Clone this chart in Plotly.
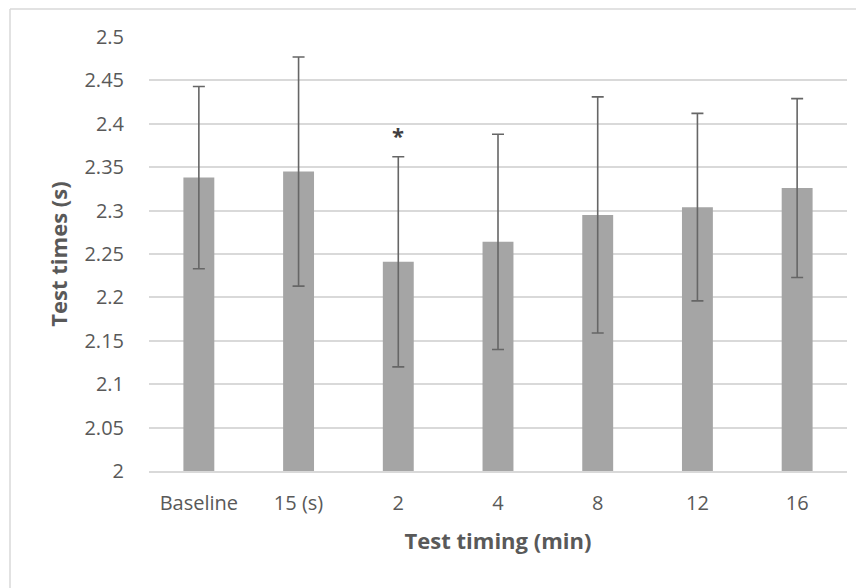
import plotly.graph_objects as go

categories = ["Baseline", "15 (s)", "2", "4", "8", "12", "16"]
means = [2.338, 2.345, 2.241, 2.264, 2.295, 2.304, 2.326]
sd = [0.105, 0.132, 0.121, 0.124, 0.136, 0.108, 0.103]
sig_category = "2"
sig_label = "*"
sig_y = 2.39
y_ticks = [2, 2.05, 2.1, 2.15, 2.2, 2.25, 2.3, 2.35, 2.4, 2.45, 2.5]
y_tick_text = ["2", "2.05", "2.1", "2.15", "2.2", "2.25", "2.3", "2.35", "2.4", "2.45", "2.5"]

FONT = "Open Sans"
TXT = "#595959"
GRID = "#D9D9D9"

fig = go.Figure()
fig.add_trace(go.Bar(
    x=categories, y=[m - 2 for m in means], base=2,
    marker=dict(color="#A5A5A5", line=dict(width=0)),
    error_y=dict(type="data", array=sd, visible=True, color="#666666",
                 thickness=1.6, width=6),
    hoverinfo="skip",
))

fig.add_annotation(x=sig_category, y=sig_y, text="<b>" + sig_label + "</b>",
                   showarrow=False, font=dict(family=FONT, size=22, color="#404040"),
                   yanchor="middle", yshift=-3)

# page has an 8px body margin; figure sits at (8, 8)
W, H = 856, 580
L, R, T, B = 141, 17, 29, 117
pw, ph = W - L - R, H - T - B
bx0 = (2 - L) / pw
by_top = (H - B - 1) / ph
fig.add_shape(type="line", xref="paper", yref="paper", x0=bx0, x1=(W + 5 - L) / pw,
              y0=by_top, y1=by_top, line=dict(color=GRID, width=1.5))
fig.add_shape(type="line", xref="paper", yref="paper", x0=bx0, x1=bx0,
              y0=by_top, y1=(H - B - H - 5) / ph, line=dict(color=GRID, width=1.5))

fig.update_layout(
    width=W, height=H,
    margin=dict(l=L, r=R, t=T, b=B),
    paper_bgcolor="white", plot_bgcolor="white",
    bargap=0.69,
    showlegend=False,
    font=dict(family=FONT, size=20, color=TXT),
    xaxis=dict(
        type="category", showgrid=False, showline=True, linecolor=GRID, linewidth=1.5,
        ticks="", ticklabelstandoff=13,
        tickfont=dict(family=FONT, size=20, color=TXT),
        title=dict(text="<b>Test timing (min)</b>", standoff=19,
                   font=dict(family=FONT, size=22, color=TXT)),
    ),
    yaxis=dict(
        range=[2, 2.5], tickmode="array", tickvals=y_ticks, ticktext=y_tick_text,
        showgrid=True, gridcolor=GRID, gridwidth=1.5, zeroline=False,
        showline=False, ticks="", ticklabelstandoff=24,
        tickfont=dict(family=FONT, size=20, color=TXT),
        title=dict(text="<b>Test times (s)</b>", standoff=10,
                   font=dict(family=FONT, size=22, color=TXT)),
    ),
)

fig.write_html("out.html")
